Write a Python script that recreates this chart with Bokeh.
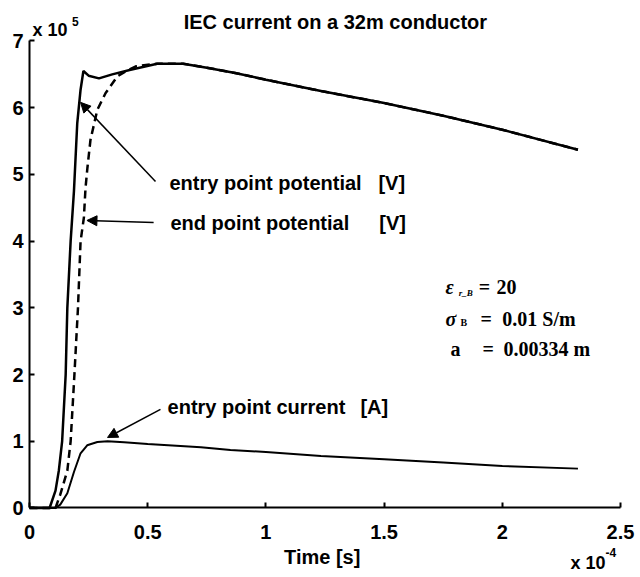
from bokeh.plotting import figure
from bokeh.models import Label, Arrow, NormalHead, FixedTicker, CustomJSTickFormatter
from bokeh.embed import file_html
from bokeh.resources import INLINE

# time in units of 1e-4 s, potential in 1e5 V, current in 1e5 A
t_entry_pot = [0, 0.085, 0.11, 0.124, 0.138, 0.153, 0.16, 0.174, 0.188, 0.202, 0.216, 0.228,
               0.25, 0.294, 0.35, 0.428, 0.54, 0.65, 0.75, 0.87, 1.0, 1.233, 1.5, 1.75, 2.0, 2.32]
v_entry_pot = [0, 0, 0.26, 0.56, 1.0, 2.0, 3.0, 4.0, 4.75, 5.77, 6.27, 6.55,
               6.48, 6.44, 6.5, 6.57, 6.66, 6.66, 6.6, 6.52, 6.42, 6.25, 6.07, 5.88, 5.67, 5.37]

t_end_pot = [0, 0.11, 0.13, 0.16, 0.174, 0.19, 0.205, 0.216, 0.23, 0.237, 0.245, 0.258, 0.287,
             0.322, 0.372, 0.414, 0.45, 0.54, 0.65, 0.75, 0.87, 1.0, 1.233, 1.5, 1.75, 2.0, 2.32]
v_end_pot = [0, 0, 0.2, 0.56, 1.0, 2.0, 3.0, 4.0, 4.35, 4.8, 5.1, 5.52, 5.97,
             6.22, 6.47, 6.56, 6.62, 6.66, 6.66, 6.6, 6.52, 6.42, 6.25, 6.07, 5.88, 5.67, 5.37]

t_current = [0, 0.11, 0.13, 0.16, 0.188, 0.216, 0.244, 0.287, 0.33, 0.4, 0.5, 0.725, 0.85,
             1.0, 1.233, 1.5, 1.75, 2.0, 2.32]
i_current = [0, 0, 0.05, 0.22, 0.54, 0.82, 0.94, 0.99, 1.0, 0.985, 0.96, 0.91, 0.87,
             0.84, 0.78, 0.73, 0.68, 0.63, 0.59]

x_ticks = [0, 0.5, 1, 1.5, 2, 2.5]
y_ticks = [0, 1, 2, 3, 4, 5, 6, 7]

title_text = "IEC current on a 32m conductor"
x_label = "Time  [s]"

SANS = "Liberation Sans"
SERIF = "Liberation Serif"

# frame spans the whole canvas; axes sit at fixed locations inside it
p = figure(width=640, height=577, x_range=(-0.1227, 2.5846), y_range=(-1.042, 7.607),
           output_backend="svg", toolbar_location=None,
           min_border_left=0, min_border_right=0, min_border_top=0, min_border_bottom=0)
p.outline_line_color = None
p.grid.visible = False
p.background_fill_color = "white"
p.border_fill_color = "white"

fmt = CustomJSTickFormatter(code="return tick.toString();")
for ax, ticks, bounds in ((p.xaxis, x_ticks, (0, 2.5)), (p.yaxis, y_ticks, (0, 7))):
    ax.ticker = FixedTicker(ticks=ticks)
    ax.formatter = fmt
    ax.fixed_location = 0
    ax.bounds = bounds
    ax.major_tick_in = 5
    ax.major_tick_out = 0
    ax.minor_tick_line_color = None
    ax.axis_line_width = 2
    ax.major_tick_line_width = 2
    ax.axis_line_color = "black"
    ax.major_tick_line_color = "black"
    ax.major_label_text_font = SANS
    ax.major_label_text_font_size = "20px"
    ax.major_label_text_font_style = "bold"
    ax.major_label_text_color = "black"

p.xaxis.major_label_standoff = 17
p.yaxis.major_label_standoff = 6
p.xaxis.axis_label = x_label
p.xaxis.axis_label_text_font = SANS
p.xaxis.axis_label_text_font_size = "20px"
p.xaxis.axis_label_text_font_style = "bold"
p.xaxis.axis_label_text_color = "black"
p.xaxis.axis_label_standoff = 4

p.line(t_entry_pot, v_entry_pot, line_color="black", line_width=2.5)
p.line(t_end_pot, v_end_pot, line_color="black", line_width=2.5, line_dash="8 5")
p.line(t_current, i_current, line_color="black", line_width=2)


def lab(x, y, text, size="20px", font=SANS, style="bold", align="left"):
    p.add_layout(Label(x=x, y=y, text=text, text_font=font, text_font_size=size,
                       text_font_style=style, text_color="black", text_baseline="middle",
                       text_align=align))


def arrow(x0, y0, x1, y1):
    p.add_layout(Arrow(end=NormalHead(size=10, fill_color="black", line_color="black"),
                       x_start=x0, y_start=y0, x_end=x1, y_end=y1,
                       line_color="black", line_width=1.5))


lab(1.294, 7.28, title_text, align="center")
lab(0.0127, 7.16, "x 10", size="18px")
lab(0.18, 7.29, "5", size="12px")
lab(2.288, -0.832, "x 10", size="18px")
lab(2.437, -0.667, "-4", size="12px")

lab(0.592, 4.865, "entry point potential")
lab(1.476, 4.865, "[V]")
lab(0.596, 4.265, "end point potential")
lab(1.48, 4.265, "[V]")
lab(0.584, 1.507, "entry point current")
lab(1.40, 1.507, "[A]")

arrow(0.533, 4.895, 0.216, 6.08)
arrow(0.525, 4.28, 0.243, 4.31)
arrow(0.554, 1.477, 0.33, 1.057)

# parameter block
lab(1.76, 3.306, "ε", font=SERIF, style="bold italic")
lab(1.816, 3.23, "r_B", size="9px", font=SERIF, style="bold italic")
lab(1.90, 3.306, "=", font=SERIF)
lab(1.975, 3.306, "20", font=SERIF)
lab(1.76, 2.84, "σ", font=SERIF, style="bold italic")
lab(1.823, 2.78, "B", size="10px", font=SERIF)
lab(1.908, 2.84, "=", font=SERIF)
lab(2.0, 2.84, "0.01 S/m", font=SERIF)
lab(1.781, 2.376, "a", font=SERIF)
lab(1.916, 2.376, "=", font=SERIF)
lab(2.005, 2.376, "0.00334 m", font=SERIF)

open("out.html", "w").write(file_html(p, INLINE))
